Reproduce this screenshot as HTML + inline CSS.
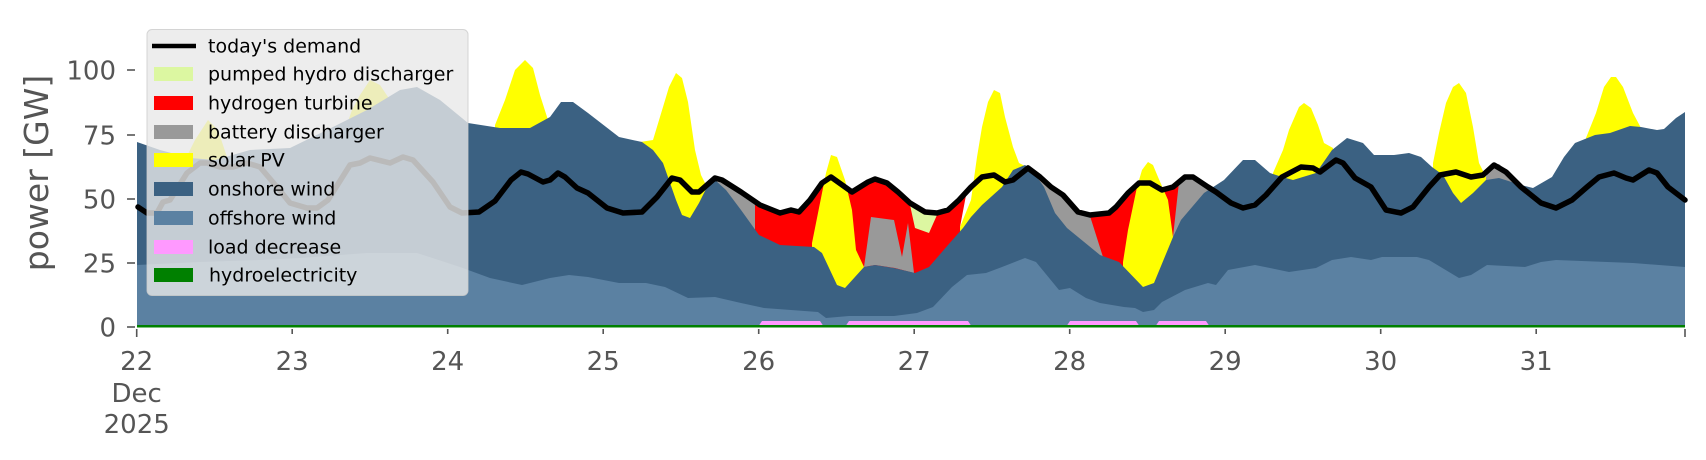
<!DOCTYPE html>
<html><head><meta charset="utf-8"><style>
html,body{margin:0;padding:0;background:#fff;}
svg{display:block;font-family:"DejaVu Sans","Liberation Sans",sans-serif;}
</style></head><body>
<svg width="1706" height="460" viewBox="0 0 1706 460" xmlns="http://www.w3.org/2000/svg">
<rect width="1706" height="460" fill="#fff"/>
<polygon fill="#ff0000" points="753,199 760,205 780,213 791,210 799,212 810,200 822,183 831,177 845,187 852,192 868,182 875,179 887,183 898,192 910,203 925,212 937,213 948,210 959,200 967,190 960,227 960,327 753,327"/>
<polygon fill="#ff0000" points="1090,215 1109,213 1116,207 1123,197 1128,193 1139,183 1150,183 1162,190 1173,187 1181,183 1181,327 1090,327"/>
<polygon fill="#999999" points="707,187 715,178 722,180 741,192 753,199 755,203 755,327 707,327"/>
<polygon fill="#999999" points="1025,166 1028,168 1040,177 1051,187 1063,195 1078,212 1090,216 1103,257 1103,327 1025,327"/>
<polygon fill="#999999" points="1179,182 1185,177 1193,177 1208,187 1216,192 1216,327 1173,327 1173,237"/>
<polygon fill="#999999" points="1484,180 1493,165 1499,164 1509,173 1523,188 1499,181 1486,181"/>
<g fill="#ffff00">
<polygon points="185,160 195,140 208,120 218,130 228,160 240,170 240,327 185,327"/>
<polygon points="345,130 352,110 360,95 370,80 380,85 390,100 400,95 400,327 345,327"/>
<polygon points="495,125 505,100 515,70 525,60 533,68 540,95 548,120 555,115 555,327 495,327"/>
<polygon points="640,142 653,140 663,107 669,87 676,73 682,78 688,102 695,150 701,175 707,187 707,327 640,327"/>
<polygon points="812,243 818,213 826,173 831,155 837,157 845,180 852,210 856,250 864,267 864,327 812,327"/>
<polygon points="960,227 971,200 977,157 982,127 988,102 994,90 1000,93 1005,117 1013,147 1019,163 1025,166 1025,327 960,327"/>
<polygon points="1123,262 1128,230 1137,187 1142,170 1148,162 1153,165 1158,177 1168,200 1173,237 1173,327 1123,327"/>
<polygon points="1273,173 1283,150 1289,130 1299,107 1304,103 1311,108 1318,125 1324,143 1333,148 1333,327 1273,327"/>
<polygon points="1433,163 1439,133 1446,103 1453,87 1459,83 1466,93 1473,127 1479,163 1486,177 1486,327 1433,327"/>
<polygon points="1586,138 1596,113 1604,87 1611,77 1616,77 1623,87 1633,113 1641,128 1641,327 1586,327"/>
</g>
<polygon fill="#999999" points="864,267 871,217 894,220 902,257 908,223 914,273 895,268 875,265"/>
<polygon fill="#dcf7a1" points="910,205 917,210 933,213 937,215 929,233 915,228"/>
<polygon fill="#3b6182" points="137,142 160,150 190,158 215,160 250,150 290,148 333,127 367,110 400,90 417,87 440,100 468,123 500,128 530,128 550,117 561,102 573,102 588,113 619,137 642,142 653,150 663,163 669,180 676,200 682,215 690,218 699,203 707,187 715,180 726,190 741,210 759,235 780,245 814,247 822,253 837,285 845,288 864,267 875,265 894,268 915,273 929,267 948,245 963,228 971,217 982,205 1002,187 1013,170 1025,165 1032,170 1044,187 1055,213 1067,228 1078,237 1100,255 1119,262 1143,287 1154,283 1173,237 1181,220 1204,193 1224,180 1243,160 1255,160 1270,173 1282,177 1293,180 1316,173 1332,150 1347,138 1363,143 1374,155 1394,155 1409,153 1421,157 1432,167 1443,175 1453,193 1461,203 1473,193 1486,180 1499,178 1521,185 1533,188 1552,177 1564,157 1575,143 1595,135 1610,133 1630,126 1641,127 1657,130 1664,129 1676,118 1685,112 1685,327 137,327"/>
<polygon fill="#5b81a2" points="137,265 200,262 260,260 300,258 367,253 417,253 460,267 490,278 522,285 550,278 569,275 588,277 619,283 646,283 665,287 688,298 715,297 741,303 764,308 818,312 826,318 849,316 894,316 917,313 933,307 952,287 967,275 986,273 1002,267 1025,258 1036,262 1059,290 1070,288 1086,298 1100,303 1124,307 1135,308 1143,312 1154,310 1162,302 1185,290 1208,283 1216,285 1228,270 1255,265 1270,268 1289,272 1316,268 1332,260 1351,257 1371,260 1382,257 1417,257 1429,260 1459,278 1471,275 1487,265 1525,267 1541,262 1556,260 1633,263 1685,267 1685,327 137,327"/>
<g fill="#ff99ff">
<polygon points="758,327 762,321 820,321 824,327"/>
<polygon points="845,327 849,321 968,321 972,327"/>
<polygon points="1066,327 1070,321 1136,321 1140,327"/>
<polygon points="1155,327 1159,321 1206,321 1210,327"/>
</g>
<rect x="137" y="325" width="1548" height="2.5" fill="#008000"/>
<polyline fill="none" stroke="#000" stroke-width="5.5" stroke-linejoin="round" stroke-linecap="round" points="138,207 147,213 157,213 163,202 170,200 187,173 200,163 207,163 220,167 233,167 247,163 260,167 277,187 290,203 307,208 317,208 328,200 350,165 360,163 370,158 390,163 403,157 413,160 433,182 450,207 462,213 479,212 495,201 511,180 521,172 528,174 543,182 550,180 558,173 565,177 577,188 588,193 607,208 623,213 642,212 657,197 672,178 680,180 692,192 699,192 715,178 722,180 741,192 760,205 780,213 791,210 799,212 810,200 822,183 831,177 845,187 852,192 868,182 875,179 887,183 898,192 910,203 925,212 937,213 948,210 959,200 971,187 982,177 994,175 1005,182 1013,180 1028,168 1040,177 1051,187 1063,195 1078,212 1090,215 1109,213 1116,207 1128,193 1139,183 1150,183 1162,190 1173,187 1185,177 1193,177 1208,187 1216,192 1231,203 1243,208 1255,205 1266,195 1282,177 1301,167 1313,168 1320,172 1336,160 1343,163 1355,178 1371,187 1386,210 1401,213 1413,207 1429,187 1440,175 1456,172 1471,177 1483,175 1494,165 1506,172 1521,187 1541,203 1556,208 1572,200 1587,187 1599,177 1614,173 1626,178 1633,180 1649,170 1657,173 1668,187 1685,200"/>
<g stroke="#555" stroke-width="1.6">
<line x1="127" y1="70" x2="135" y2="70"/><line x1="127" y1="135" x2="135" y2="135"/><line x1="127" y1="199" x2="135" y2="199"/><line x1="127" y1="263" x2="135" y2="263"/><line x1="127" y1="327" x2="135" y2="327"/>
<line x1="136.7" y1="329" x2="136.7" y2="337"/><line x1="292.2" y1="329" x2="292.2" y2="334"/><line x1="447.7" y1="329" x2="447.7" y2="334"/><line x1="603.2" y1="329" x2="603.2" y2="334"/><line x1="758.7" y1="329" x2="758.7" y2="334"/><line x1="914.2" y1="329" x2="914.2" y2="334"/><line x1="1069.7" y1="329" x2="1069.7" y2="334"/><line x1="1225.2" y1="329" x2="1225.2" y2="334"/><line x1="1380.7" y1="329" x2="1380.7" y2="334"/><line x1="1536.2" y1="329" x2="1536.2" y2="334"/><line x1="1685" y1="329" x2="1685" y2="337"/>
</g>
<g fill="#555" font-size="26" text-anchor="end">
<text x="116" y="79.5">100</text><text x="116" y="144.5">75</text><text x="116" y="208.5">50</text><text x="116" y="272.5">25</text><text x="116" y="336.5">0</text>
</g>
<g fill="#555" font-size="26" text-anchor="middle">
<text x="136.7" y="370">22</text><text x="136.7" y="402">Dec</text><text x="136.7" y="433">2025</text>
<text x="292.2" y="370">23</text><text x="447.7" y="370">24</text><text x="603.2" y="370">25</text><text x="758.7" y="370">26</text><text x="914.2" y="370">27</text><text x="1069.7" y="370">28</text><text x="1225.2" y="370">29</text><text x="1380.7" y="370">30</text><text x="1536.2" y="370">31</text>
</g>
<text transform="translate(48,173) rotate(-90)" fill="#555" font-size="33" text-anchor="middle">power [GW]</text>
<rect x="147" y="29.5" width="321" height="266" rx="5" fill="rgba(232,232,232,0.8)" stroke="rgba(204,204,204,0.8)" stroke-width="1"/>
<line x1="152" y1="46" x2="196" y2="46" stroke="#000" stroke-width="4.5"/>
<rect x="154" y="67" width="39" height="14" fill="#dcf7a1"/>
<rect x="154" y="96" width="39" height="14" fill="#ff0000"/>
<rect x="154" y="125" width="39" height="14" fill="#999999"/>
<rect x="154" y="153" width="39" height="14" fill="#ffff00"/>
<rect x="154" y="182" width="39" height="14" fill="#3b6182"/>
<rect x="154" y="211" width="39" height="14" fill="#5b81a2"/>
<rect x="154" y="240" width="39" height="14" fill="#ff99ff"/>
<rect x="154" y="268" width="39" height="14" fill="#008000"/>
<g fill="#000" font-size="19">
<text x="208" y="52.5">today's demand</text>
<text x="208" y="80.5">pumped hydro discharger</text>
<text x="208" y="109.5">hydrogen turbine</text>
<text x="208" y="138.5">battery discharger</text>
<text x="208" y="166.5">solar PV</text>
<text x="208" y="195.5">onshore wind</text>
<text x="208" y="224.5">offshore wind</text>
<text x="208" y="253.5">load decrease</text>
<text x="209" y="281.5">hydroelectricity</text>
</g>
</svg>
</body></html>
